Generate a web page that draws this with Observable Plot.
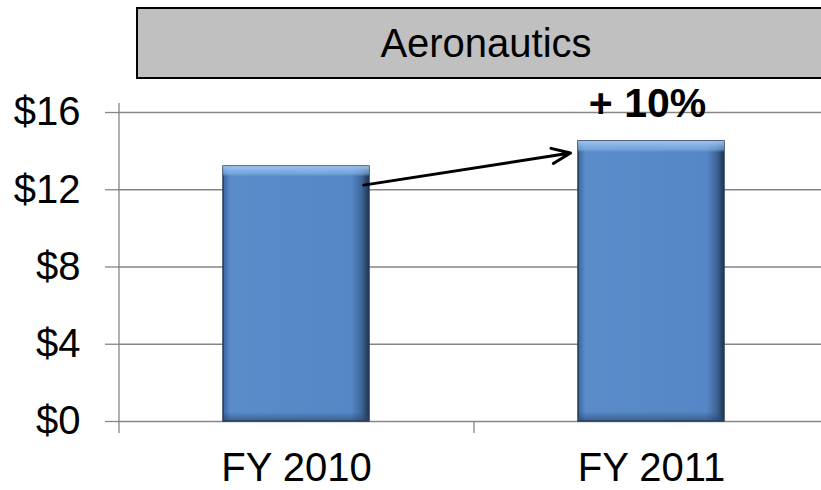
<!DOCTYPE html>
<html><head><meta charset="utf-8">
<script src="https://cdn.jsdelivr.net/npm/d3@7"></script>
<script src="https://cdn.jsdelivr.net/npm/@observablehq/plot@0.6"></script>
<style>
html,body{margin:0;padding:0;background:#fff;overflow:hidden;}
#wrap{position:relative;width:821px;height:490px;font-family:"Liberation Sans",Arial,sans-serif;}
#chart{position:absolute;left:0;top:0;}
#title{position:absolute;left:136px;top:7px;width:700px;height:72px;box-sizing:border-box;border:2.5px solid #000;background:#c0c0c0;display:flex;align-items:center;justify-content:center;font-size:40px;color:#000;z-index:2;}
</style></head><body>
<svg width="0" height="0" style="position:absolute">
  <defs>
    <linearGradient id="hgrad" x1="0" y1="0" x2="1" y2="0">
      <stop offset="0" stop-color="#3a659e"/>
      <stop offset="0.05" stop-color="#5a8cca"/>
      <stop offset="0.88" stop-color="#5587c6"/>
      <stop offset="0.95" stop-color="#3e6698"/>
      <stop offset="1" stop-color="#1f3350"/>
    </linearGradient>
    <linearGradient id="vgrad" x1="0" y1="0" x2="0" y2="1">
      <stop offset="0" stop-color="#a6ccf4" stop-opacity="0.9"/>
      <stop offset="0.03" stop-color="#86b4ea" stop-opacity="0.6"/>
      <stop offset="0.04" stop-color="#86b4ea" stop-opacity="0"/>
      <stop offset="0.965" stop-color="#2a4466" stop-opacity="0"/>
      <stop offset="1" stop-color="#2a4466" stop-opacity="0.6"/>
    </linearGradient>
  </defs>
</svg>
<div id="wrap"><div id="title"></div><div id="chart"></div></div>
<script>
const titleText = "Aeronautics";
const categories = ["FY 2010", "FY 2011"];
const values = [13.2, 14.5];
const yTicks = [0, 4, 8, 12, 16];
const arrowStartValue = 11.7;
const arrowEndValue = 14.55;
const changeLabelValue = 16.45;

document.getElementById("title").textContent = titleText;

const data = categories.map((c, i) => ({category: c, value: values[i]}));
const pct = Math.round((values[1] / values[0] - 1) * 100);
const xRange = [118, 828];
const step = (xRange[1] - xRange[0]) / categories.length;
const gridColor = "#868686";
const font = "'Liberation Sans', Arial, sans-serif";

const chart = Plot.plot({
  width: 821,
  height: 490,
  marginLeft: 118,
  marginRight: 0,
  marginTop: 103,
  marginBottom: 57,
  style: {fontFamily: font, fontSize: "40px", color: "#000", background: "transparent", overflow: "visible"},
  x: {domain: categories, range: xRange, paddingInner: 0.59, paddingOuter: 0.295, align: 0.5},
  y: {domain: [0, 16], range: [421, 112]},
  marks: [
    Plot.ruleY(yTicks, {stroke: gridColor, strokeWidth: 1.3}),
    Plot.axisY(yTicks, {tickSize: 13, tickPadding: 25, tickFormat: d => "$" + d, stroke: gridColor, strokeWidth: 1.3, fill: "#000", fontSize: 40, label: null}),
    Plot.ruleX([categories[0]], {x: d => d, dx: -step / 2, stroke: gridColor, strokeWidth: 1.3}),
    Plot.ruleX(categories.slice(1), {x: d => d, dx: -step / 2, y1: 0, y2: 0, insetBottom: -12, stroke: gridColor, strokeWidth: 1.3}),
    Plot.axisX(categories, {tickSize: 0, tickPadding: 19, fontSize: 40, fill: "#000", label: null}),
    Plot.barY(data, {x: "category", y: "value", fill: "url(#hgrad)", stroke: "#22385a", strokeWidth: 1.5}),
    Plot.barY(data, {x: "category", y: "value", fill: "url(#vgrad)"}),
    Plot.arrow([{a: categories[0], b: categories[1], ya: arrowStartValue, yb: arrowEndValue}],
      {x1: "a", x2: "b", y1: "ya", y2: "yb", stroke: "#000", strokeWidth: 3, insetStart: 68, insetEnd: 82, headLength: 10, headAngle: 45}),
    Plot.text([{c: categories[1], v: changeLabelValue, t: `+ ${pct}%`}],
      {x: "c", y: "v", text: "t", fontWeight: "bold", fontSize: 41, fill: "#000", dx: -4})
  ]
});
document.getElementById("chart").appendChild(chart);
</script>
</body></html>
